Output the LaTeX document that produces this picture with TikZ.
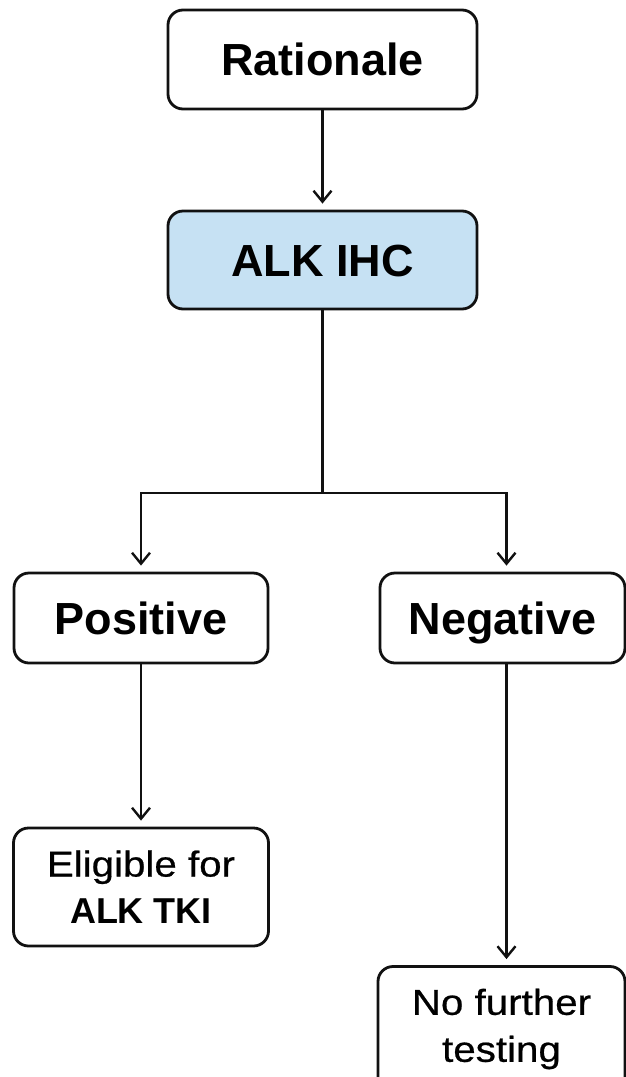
\documentclass[tikz,border=0pt]{standalone}
\usepackage{fontspec}
\setmainfont{Liberation Sans}
\newfontfamily\widefont[FakeStretch=1.12,FakeBold=0.6]{Liberation Sans}
\usetikzlibrary{arrows.meta}
\definecolor{boxblue}{HTML}{C6E1F3}
\definecolor{ink}{HTML}{111111}
\tikzset{
  box/.style={draw=ink, line width=2.8pt, rounded corners=15pt, align=center, inner sep=0pt, text=black},
  bigtext/.style={font=\fontsize{45}{50}\selectfont\bfseries, text height=32pt, text depth=0pt},
  smalltext/.style={font=\fontsize{36}{47}\selectfont},
  arr/.style={draw=ink, line width=2.4pt, -{Straight Barb[length=11pt,width=18pt,line width=2.4pt]}, shorten >=6pt},
  link/.style={draw=ink, line width=2.4pt}
}
\begin{document}
\begin{tikzpicture}[x=1pt,y=-1pt]
\useasboundingbox (0,0) rectangle (626,1077);
\node[box, bigtext, minimum width=309pt, minimum height=99pt] (rat) at (322.5,59.5) {Rationale};
\node[box, bigtext, fill=boxblue, minimum width=309pt, minimum height=98pt] (ihc) at (322.5,260) {ALK IHC};
\node[box, bigtext, minimum width=254pt, minimum height=90pt] (pos) at (141,618) {Positive};
\node[box, bigtext, minimum width=245pt, minimum height=90pt] (neg) at (502.5,618) {Negative};
\node[box, smalltext, minimum width=255pt, minimum height=118pt] (elig) at (141,887) {{\widefont Eligible for}\\\bfseries ALK TKI};
\node[box, smalltext, minimum width=247pt, minimum height=125pt] (nft) at (501.5,1029) {\widefont No further\\\widefont testing};
\coordinate (br) at (322.5,493);
\draw[arr] (rat.south) -- (ihc.north);
\draw[link] (ihc.south) -- (br);
\draw[arr] (br) -| (pos.north);
\draw[arr] (br) -| ([xshift=4pt]neg.north);
\draw[arr] (pos.south) -- (elig.north);
\draw[arr] ([xshift=4pt]neg.south) -- ([xshift=5pt]nft.north);
\end{tikzpicture}
\end{document}
